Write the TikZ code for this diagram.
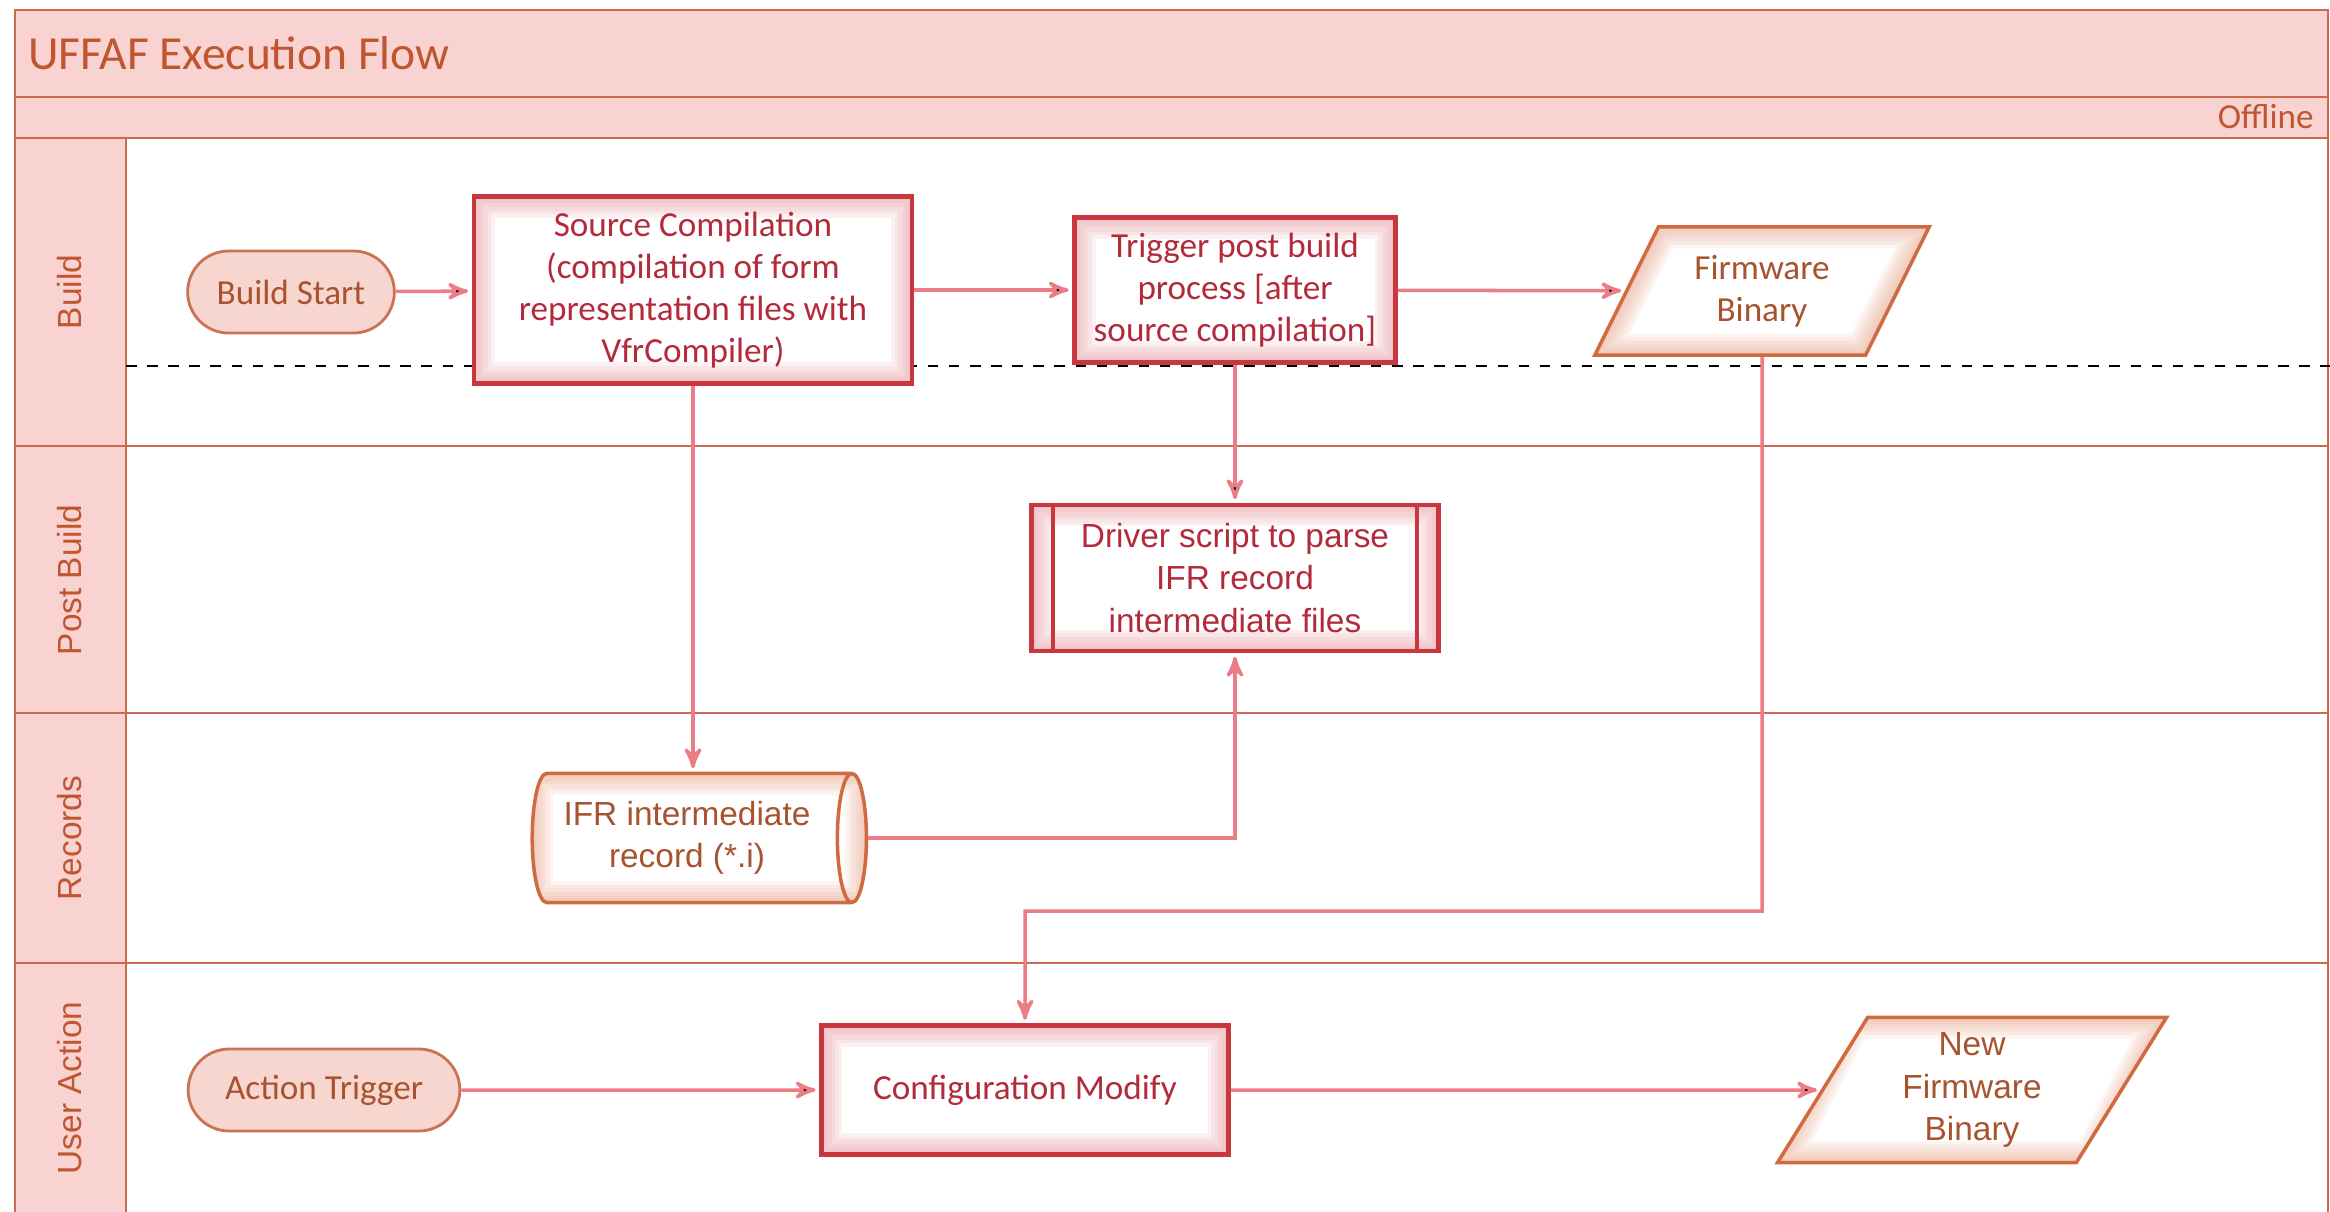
\documentclass[tikz,border=0pt]{standalone}
\usepackage{fontspec}
\setmainfont{Carlito}
\newfontfamily\widefont{Liberation Sans}
\usepackage{tikz}
\usetikzlibrary{arrows,calc,shapes.geometric,shapes.misc,positioning}

\definecolor{bandpink}{HTML}{F8D3D2}
\definecolor{lanebrown}{HTML}{C96B4C}
\definecolor{titlebrown}{HTML}{C0552F}
\definecolor{procred}{HTML}{C9373E}
\definecolor{proctext}{HTML}{B32B3B}
\definecolor{procpink}{HTML}{E99AA0}
\definecolor{termfill}{HTML}{F8D6D0}
\definecolor{termline}{HTML}{C87454}
\definecolor{datatext}{HTML}{A8532F}
\definecolor{dataline}{HTML}{D06A40}
\definecolor{datapeach}{HTML}{EBAA92}
\definecolor{flowline}{HTML}{EA7D85}

\tikzset{
  glowbox/.style={path picture={
    \foreach \gw in {2,4,...,12}
      \draw[#1, line width=\gw pt, opacity=0.13] (path picture bounding box.south west)
        rectangle (path picture bounding box.north east);}},
  glowslant/.style={path picture={
    \foreach \gw in {2,4,...,12}
      \draw[#1, line width=\gw pt, opacity=0.13]
        let \p1=(path picture bounding box.south west), \p2=(path picture bounding box.north east),
            \n1={0.5095*(\y2-\y1)} in
        (\x1,\y1) -- (\x2-\n1,\y1) -- (\x2,\y2) -- (\x1+\n1,\y2) -- cycle;}},
  lane/.style={draw=lanebrown, line width=0.8pt},
  lanelabel/.style={rotate=90, text=titlebrown, font=\widefont\fontsize{9.5}{11}\selectfont},
  term/.style={rounded rectangle, draw=termline, fill=termfill, line width=0.8pt,
    text=datatext, font=\fontsize{10}{12}\selectfont, minimum height=0.82cm},
  proc/.style={rectangle, draw=procred, line width=1.3pt, fill=white, glowbox=procpink,
    text=proctext, align=center, font=\fontsize{10}{12}\selectfont},
  predef/.style={proc, font=\widefont\fontsize{9.5}{12}\selectfont},
  iobox/.style={trapezium, trapezium left angle=63, trapezium right angle=117,
    trapezium stretches=true, draw=dataline, line width=1pt, fill=white, glowslant=datapeach,
    text=datatext, align=center, font=\fontsize{10}{12}\selectfont},
  store/.style={cylinder, aspect=0.3, draw=dataline, line width=1pt, fill=white, glowbox=datapeach,
    text=datatext, align=center, font=\widefont\fontsize{9.5}{12}\selectfont},
  flow/.style={->, draw=flowline, line width=1pt, shorten >=1pt}
}

\begin{document}
\begin{tikzpicture}[x=0.01cm,y=-0.01cm,>=stealth']
  \useasboundingbox (0,0) rectangle (2330,1211);
  \clip (0,0) rectangle (2330,1211);

  % pool and lanes
  \draw[lane, fill=bandpink] (15,10) rectangle (2328,97);
  \draw[lane, fill=bandpink] (15,97) rectangle (2328,138);
  \draw[lane, fill=bandpink] (15,138) rectangle (126,1230);
  \draw[lane] (126,138) -- (2328,138) -- (2328,1230);
  \foreach \ly in {446,713,963}
    \draw[lane] (15,\ly) -- (2328,\ly);
  \draw[dashed, thin] (126,366) -- (2330,366);

  \node [anchor=west, text=titlebrown, font=\fontsize{13.5}{16}\selectfont] (title) at (16,53) {UFFAF Execution Flow};
  \node [anchor=east, text=titlebrown, font=\fontsize{10}{12}\selectfont] (offline) at (2326,117) {Offline};

  \node [lanelabel] (lbuild)   at (70,292)  {Build};
  \node [lanelabel] (lpost)    at (70,580)  {Post Build};
  \node [lanelabel] (lrecords) at (70,838)  {Records};
  \node [lanelabel] (luser)    at (70,1088) {User Action};

  % build lane
  \node [term, minimum width=2.30cm]                        (bs)  at (291,292)  {Build Start};
  \node [proc, minimum width=4.38cm, minimum height=1.87cm] (sc)  at (693,290)
        {Source Compilation\\(compilation of form\\representation files with\\VfrCompiler)};
  \node [proc, minimum width=3.21cm, minimum height=1.45cm] (tp)  at (1235,290)
        {Trigger post build\\process [after\\source compilation]};
  \node [iobox, minimum width=3.35cm, minimum height=1.28cm] (fw) at (1762,291) {Firmware\\Binary};

  % post build lane
  \node [predef, minimum width=4.07cm, minimum height=1.46cm] (drv) at (1235,578)
        {Driver script to parse\\IFR record\\intermediate files};
  \draw [procred, line width=1.3pt] ([xshift=0.24cm]drv.north west) -- ([xshift=0.24cm]drv.south west);
  \draw [procred, line width=1.3pt] ([xshift=-0.24cm]drv.north east) -- ([xshift=-0.24cm]drv.south east);

  % records lane
  \node [store, minimum width=1.29cm, minimum height=3.34cm] (rec) at (687,838)
        {IFR intermediate\\record (*.i)};

  % user action lane
  \node [term, minimum width=2.95cm]                        (at)  at (324,1090) {Action Trigger};
  \node [proc, minimum width=4.07cm, minimum height=1.29cm] (cm)  at (1025,1090) {Configuration Modify};
  \node [iobox, minimum width=3.89cm, minimum height=1.45cm, font=\widefont\fontsize{9.5}{12}\selectfont] (nfw) at (1972,1090)
        {New\\Firmware\\Binary};

  \coordinate (fwturn) at (1762,911);

  \path [flow] (bs) edge (sc);
  \path [flow] (sc) edge (tp);
  \path [flow] (tp) edge (fw);
  \path [flow] (tp) edge (drv);
  \path [flow] (at) edge (cm);
  \path [flow] (cm) edge (nfw);
  \draw [flow] (sc.south) -- (rec.north -| sc.south);
  \draw [flow] (rec.east) -| (drv.south);
  \draw [flow] (fw.south) -- (fwturn) -| (cm.north);
\end{tikzpicture}
\end{document}
